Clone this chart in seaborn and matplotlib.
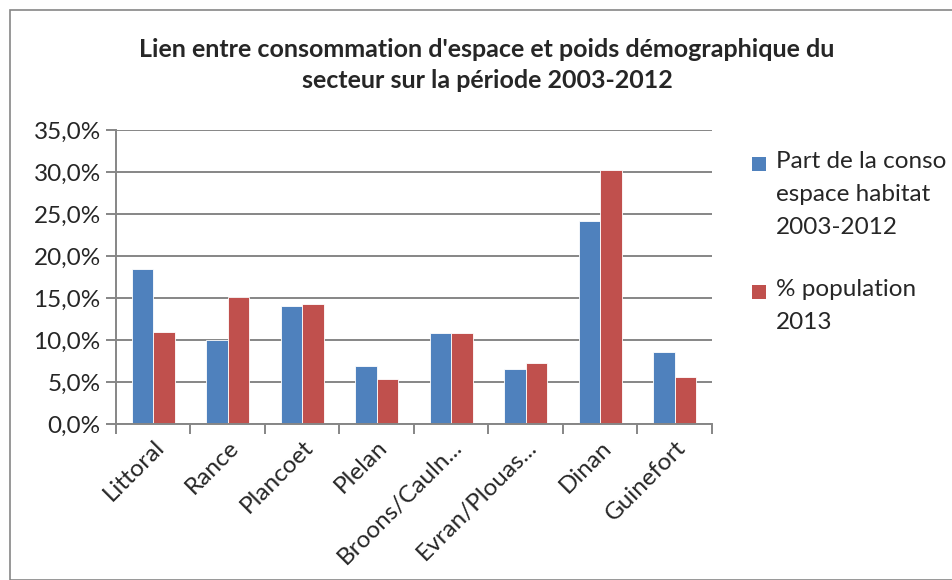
import matplotlib
matplotlib.use("Agg")
import matplotlib.pyplot as plt
import matplotlib.ticker as mticker
from matplotlib.patches import Rectangle
import seaborn as sns
import pandas as pd
import numpy as np

categories = ["Littoral", "Rance", "Plancoet", "Plelan", "Broons/Cauln...",
              "Evran/Plouas...", "Dinan", "Guinefort"]
conso_habitat = [18.5, 10.0, 14.0, 6.9, 10.8, 6.6, 24.2, 8.6]
population_2013 = [10.9, 15.1, 14.3, 5.4, 10.8, 7.3, 30.2, 5.6]
series_names = ["Part de la conso\nespace habitat\n2003-2012", "% population\n2013"]
title = "Lien entre consommation d'espace et poids démographique du\nsecteur sur la période 2003-2012"
colors = ["#4F81BD", "#C0504D"]

df = pd.DataFrame({
    "cat": categories * 2,
    "val": conso_habitat + population_2013,
    "serie": [series_names[0]] * len(categories) + [series_names[1]] * len(categories),
})

sns.set_theme(style="white")
plt.rcParams["font.family"] = ["Lato", "DejaVu Sans"]

FS = 17.5

fig = plt.figure(figsize=(9.53, 5.80), dpi=100)
ax = fig.add_axes([116/953, 1 - 424/580, (712-116)/953, (424-130)/580])

sns.barplot(data=df, x="cat", y="val", hue="serie", palette=colors, ax=ax,
            width=0.58, edgecolor="white", linewidth=0.6, legend=False, saturation=1)

ax.set_ylim(0, 35)
ax.set_xlim(-0.5, len(categories) - 0.5)
ax.set_yticks(np.arange(0, 36, 5))
ax.yaxis.set_major_formatter(mticker.FuncFormatter(lambda v, p: f"{v:.1f}%".replace(".", ",")))
ax.grid(axis="y", color="#868686", linewidth=1.4)
ax.set_axisbelow(True)
for s in ["top", "right"]:
    ax.spines[s].set_visible(False)
for s in ["left", "bottom"]:
    ax.spines[s].set_color("#868686")
    ax.spines[s].set_linewidth(1.4)

ax.set_xlabel("")
ax.set_ylabel("")
ax.set_xticks(np.arange(len(categories)))
ax.set_xticklabels(categories, rotation=45, ha="right", rotation_mode="anchor", fontsize=FS)
ax.tick_params(axis="x", which="major", length=0, pad=9)
ax.set_xticks(np.arange(-0.5, len(categories)), minor=True)
ax.tick_params(axis="x", which="minor", length=7, width=1.4, color="#868686", direction="out", bottom=True)
ax.tick_params(axis="y", length=7, width=1.4, color="#868686", direction="out", labelsize=FS, pad=4, left=True)

fig.text(487/953, 1 - 65/580, title, ha="center", va="center", fontsize=18,
         fontweight="bold", linespacing=1.45)

# legend drawn as figure-level entries
legend_tops = [151, 279]
for c, lab, top in zip(colors, series_names, legend_tops):
    fig.patches.append(Rectangle((752/953, 1 - (top + 20)/580), 14/953, 14/580,
                                 transform=fig.transFigure, facecolor=c, edgecolor="none"))
    fig.text(776/953, 1 - top/580, lab, ha="left", va="top", fontsize=FS, linespacing=1.7)

fig.patches.append(Rectangle((10/953, 0), 1, 1 - 10/580, transform=fig.transFigure,
                             fill=False, edgecolor="#868686", linewidth=1.2))

fig.savefig("out.png", dpi=100)
